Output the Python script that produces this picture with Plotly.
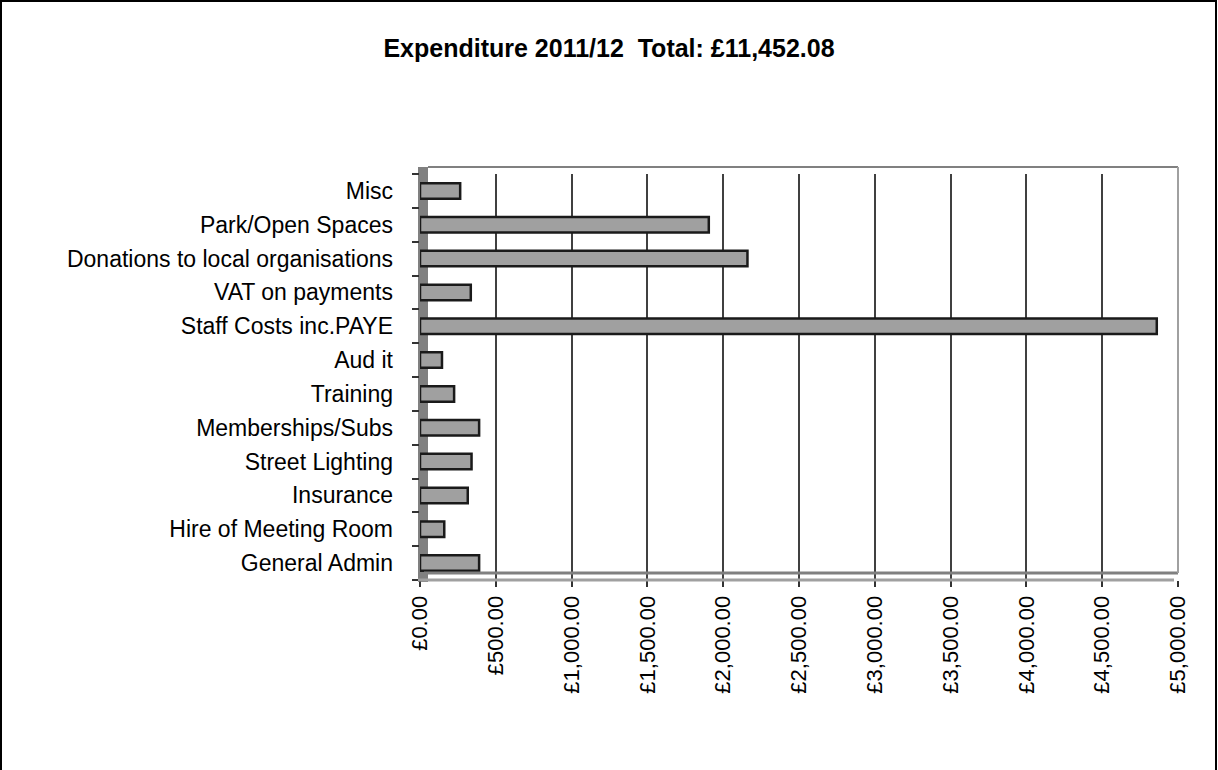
import plotly.graph_objects as go

categories = ["General Admin", "Hire of Meeting Room", "Insurance", "Street Lighting",
              "Memberships/Subs", "Training", "Aud it", "Staff Costs inc.PAYE",
              "VAT on payments", "Donations to local organisations", "Park/Open Spaces", "Misc"]
values = [390, 160, 315, 340, 390, 225, 145, 4860, 335, 2160, 1905, 265]
x_ticks = [0, 500, 1000, 1500, 2000, 2500, 3000, 3500, 4000, 4500, 5000]
x_labels = ["£{:,.2f}".format(v) for v in x_ticks]

W, H = 1218, 770
L, R, T, B = 420, 40, 174, 190
pw, ph = W - L - R, H - T - B
FONT = "Arial, Liberation Sans, sans-serif"

fig = go.Figure()
fig.add_trace(go.Bar(
    y=categories, x=values, orientation="h",
    marker=dict(color="#a0a0a0", line=dict(color="#1a1a1a", width=2.5)),
    width=0.46,
))

shapes = [
    # outer frame
    dict(type="rect", xref="paper", yref="paper",
         x0=(-L + 1) / pw, x1=1 + (R - 2) / pw,
         y0=-B / ph - 0.2, y1=1 + (T - 1) / ph,
         line=dict(color="black", width=2), layer="above"),
    # left 3D wall
    dict(type="rect", xref="paper", yref="paper",
         x0=-2 / pw, x1=8 / pw, y0=-2 / ph, y1=1 + 7 / ph,
         fillcolor="#808080", line=dict(width=0), layer="below"),
    # floor back edge
    dict(type="line", xref="paper", yref="paper",
         x0=4 / pw, x1=1, y0=7 / ph, y1=7 / ph,
         line=dict(color="#808080", width=3)),
    # floor front edge
    dict(type="line", xref="paper", yref="paper",
         x0=-2 / pw, x1=1 - 4 / pw, y0=0, y1=0,
         line=dict(color="#a0a0a0", width=3)),
    # top edge of back wall
    dict(type="line", xref="paper", yref="paper",
         x0=8 / pw, x1=1, y0=1 + 7 / ph, y1=1 + 7 / ph,
         line=dict(color="#808080", width=2)),
    # right edge of back wall
    dict(type="line", xref="paper", yref="paper",
         x0=1, x1=1, y0=7 / ph, y1=1 + 7 / ph,
         line=dict(color="#a0a0a0", width=2)),
]

fig.update_layout(
    width=W, height=H,
    margin=dict(l=L, r=R, t=T, b=B),
    paper_bgcolor="white", plot_bgcolor="white",
    showlegend=False,
    font=dict(family=FONT, color="black", size=18),
    title=dict(text="<b>Expenditure 2011/12  Total: £11,452.08</b>",
               x=(W / 2 - L) / pw, xref="paper", xanchor="center",
               y=1 - 48 / H, yref="container", yanchor="middle",
               font=dict(family=FONT, size=25, color="black")),
    shapes=shapes,
)

fig.update_xaxes(
    range=[0, 5000], tickvals=x_ticks, ticktext=x_labels,
    tickangle=-90, showgrid=True, gridcolor="#404040", gridwidth=2,
    zeroline=False, showline=False, ticks="outside", ticklen=6,
    tickcolor="#333", tickwidth=2, tickfont=dict(size=22, family=FONT),
)
fig.update_yaxes(
    type="category", categoryorder="array", categoryarray=categories,
    range=[-0.5, len(categories) - 0.5],
    tickson="boundaries", ticks="outside", ticklen=7, tickcolor="#333", tickwidth=2,
    showgrid=False, showline=False, zeroline=False,
    tickfont=dict(size=23, family=FONT), ticklabelstandoff=26,
)

fig.write_html("out.html", config={"displayModeBar": False},
               post_script="document.body.style.margin='0';document.body.style.padding='0';")
